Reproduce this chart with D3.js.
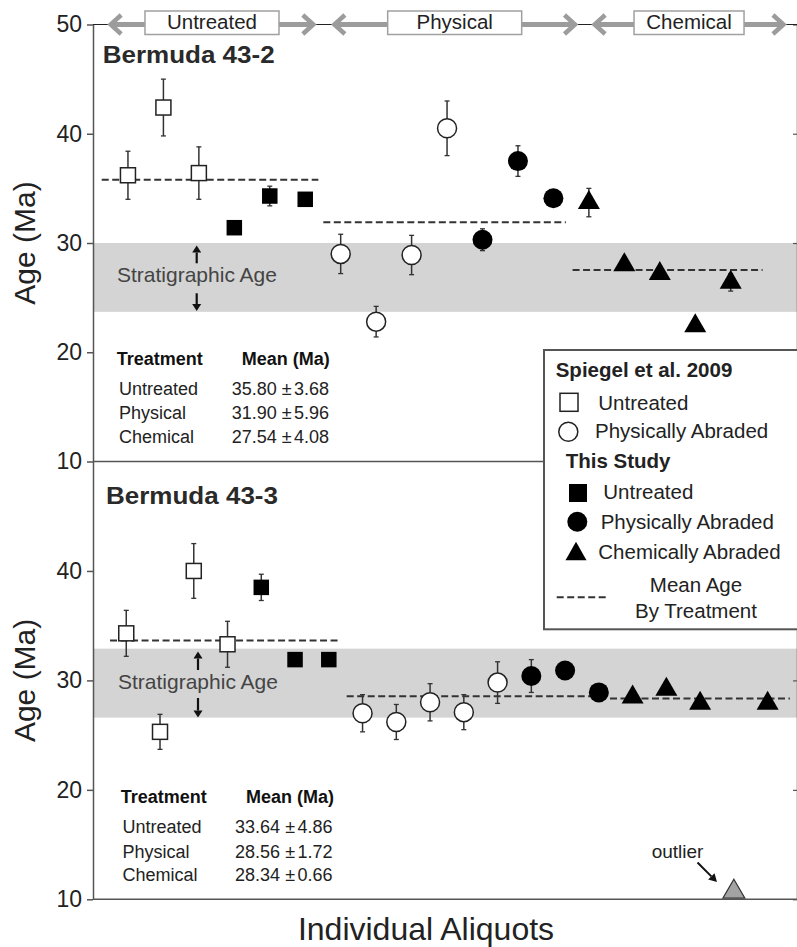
<!DOCTYPE html>
<html><head><meta charset="utf-8">
<script src="https://cdn.jsdelivr.net/npm/d3@7"></script>
<style>body{margin:0;background:#fff}</style>
</head><body>
<svg id="chart" width="797" height="947"></svg>
<script>
// ---------------- DATA ----------------
const treatments = ["Untreated", "Physical", "Chemical"];
const yTicksTop = [10, 20, 30, 40, 50];
const yTicksBottom = [10, 20, 30, 40];
// header arrow extents (aliquot index units, top panel)
const headerStart = [0.47, 6.78, 14.12];
const headerEnd = [6.27, 13.65, 19.53];

// Bermuda 43-2
const a_openSqIdx = [1, 2, 3], a_openSqAge = [36.2, 42.4, 36.4], a_openSqErr = [2.2, 2.6, 2.4];
const a_fillSqIdx = [4, 5, 6], a_fillSqAge = [31.4, 34.3, 34.0], a_fillSqErr = [0, 0.9, 0];
const a_openCirIdx = [7, 8, 9, 10], a_openCirAge = [29.0, 22.8, 28.9, 40.5], a_openCirErr = [1.8, 1.4, 1.8, 2.5];
const a_fillCirIdx = [11, 12, 13], a_fillCirAge = [30.3, 37.5, 34.1], a_fillCirErr = [1.0, 1.4, 0];
const a_triIdx = [14, 15, 16, 17, 18], a_triAge = [33.7, 28.0, 27.2, 22.4, 26.4], a_triErr = [1.3, 0, 0, 0, 0.8];
const a_means = [35.80, 31.90, 27.54], a_sds = [3.68, 5.96, 4.08];
const a_meanStart = [0.26, 6.51, 13.54], a_meanEnd = [6.37, 13.35, 18.9];
const a_band = [23.7, 30.0];

// Bermuda 43-3
const b_openSqIdx = [1, 2, 3, 4], b_openSqAge = [34.3, 25.3, 40.0, 33.3], b_openSqErr = [2.1, 1.6, 2.5, 2.1];
const b_fillSqIdx = [5, 6, 7], b_fillSqAge = [38.5, 31.9, 31.9], b_fillSqErr = [1.2, 0.6, 0];
const b_openCirIdx = [8, 9, 10, 11, 12], b_openCirAge = [27.0, 26.2, 28.0, 27.1, 29.8], b_openCirErr = [1.7, 1.6, 1.7, 1.6, 1.9];
const b_fillCirIdx = [13, 14, 15], b_fillCirAge = [30.4, 30.9, 28.9], b_fillCirErr = [1.5, 0, 0];
const b_triIdx = [16, 17, 18, 20], b_triAge = [28.46, 29.17, 27.9, 27.9], b_triErr = [0, 0, 0, 0];
const b_outlierIdx = [19], b_outlierAge = [10.68];
const b_means = [33.64, 28.56, 28.34], b_sds = [4.86, 1.72, 0.66];
const b_meanStart = [0.52, 7.53, 15.33], b_meanEnd = [7.33, 14.74, 20.66];
const b_band = [26.6, 32.9];

// ---------------- DRAW ----------------
const FONT = "'Liberation Sans', Arial, Helvetica, sans-serif";
const TXT = "#222";
const AX = "#555";
const svg = d3.select("#chart").style("font-family", FONT);

const zip = (idx, age, err) => idx.map((d, i) => ({i: d, v: age[i], e: err ? err[i] : 0}));

const panels = [
  {title: "Bermuda 43-2", yTop: 24.5, yBot: 461.5, xMax: 19.87, ticks: yTicksTop,
   band: a_band, means: a_means, sds: a_sds, mStart: a_meanStart, mEnd: a_meanEnd,
   openSq: zip(a_openSqIdx, a_openSqAge, a_openSqErr), fillSq: zip(a_fillSqIdx, a_fillSqAge, a_fillSqErr),
   openCir: zip(a_openCirIdx, a_openCirAge, a_openCirErr), fillCir: zip(a_fillCirIdx, a_fillCirAge, a_fillCirErr),
   tri: zip(a_triIdx, a_triAge, a_triErr), outlier: [],
   titlePos: [102.7, 63], strat: {x: 117, y: 281.7, ax: 196.7, up: [263.3, 245.5], down: [293.3, 311]},
   table: {hy: 365, tx: 116.7, mx: 241.7, rows: [395, 419.3, 443.3], rx: 119, vx: 231.7, px: 281.8, sx: 294}},
  {title: "Bermuda 43-3", yTop: 461.5, yBot: 899.3, xMax: 20.87, ticks: yTicksBottom,
   band: b_band, means: b_means, sds: b_sds, mStart: b_meanStart, mEnd: b_meanEnd,
   openSq: zip(b_openSqIdx, b_openSqAge, b_openSqErr), fillSq: zip(b_fillSqIdx, b_fillSqAge, b_fillSqErr),
   openCir: zip(b_openCirIdx, b_openCirAge, b_openCirErr), fillCir: zip(b_fillCirIdx, b_fillCirAge, b_fillCirErr),
   tri: zip(b_triIdx, b_triAge, b_triErr), outlier: zip(b_outlierIdx, b_outlierAge, null),
   titlePos: [106, 504.3], strat: {x: 118, y: 689, ax: 198, up: [670, 651.5], down: [698, 717.5]},
   table: {hy: 802.7, tx: 120.7, mx: 246, rows: [833.3, 857.7, 881], rx: 122.5, vx: 235, px: 285.2, sx: 297.4}}
];

function arrow(g, x1, y1, x2, y2, hl, hw, sw, color) {
  const ang = Math.atan2(y2 - y1, x2 - x1);
  const bx = x2 - hl * Math.cos(ang), by = y2 - hl * Math.sin(ang);
  g.append("line").attr("x1", x1).attr("y1", y1).attr("x2", bx).attr("y2", by)
    .attr("stroke", color).attr("stroke-width", sw);
  const px = -Math.sin(ang) * hw, py = Math.cos(ang) * hw;
  g.append("path").attr("d", `M${x2},${y2}L${bx + px},${by + py}L${bx - px},${by - py}Z`).attr("fill", color);
}

const triPath = (h, hw) => `M0,${-2 * h / 3}L${hw},${h / 3}L${-hw},${h / 3}Z`;

panels.forEach((p, pi) => {
  const x = d3.scaleLinear().domain([0, p.xMax]).range([92.5, 797]);
  const y = d3.scaleLinear().domain([10, 50]).range([p.yBot, p.yTop]);
  const g = svg.append("g");

  // band
  g.append("rect").attr("x", 93).attr("width", 704)
    .attr("y", y(p.band[1])).attr("height", y(p.band[0]) - y(p.band[1])).attr("fill", "#d4d4d4");

  // mean lines
  p.means.forEach((m, k) => {
    g.append("line").attr("x1", x(p.mStart[k])).attr("x2", x(p.mEnd[k]))
      .attr("y1", y(m)).attr("y2", y(m))
      .attr("stroke", "#333").attr("stroke-width", 2).attr("stroke-dasharray", "7,3.5");
  });

  // error bars
  const all = [].concat(p.openSq, p.fillSq, p.openCir, p.fillCir, p.tri).filter(d => d.e > 0);
  all.forEach(d => {
    const cx = x(d.i);
    g.append("line").attr("x1", cx).attr("x2", cx).attr("y1", y(d.v - d.e)).attr("y2", y(d.v + d.e))
      .attr("stroke", "#333").attr("stroke-width", 1.5);
    [d.v - d.e, d.v + d.e].forEach(v => g.append("line").attr("x1", cx - 2.5).attr("x2", cx + 2.5)
      .attr("y1", y(v)).attr("y2", y(v)).attr("stroke", "#333").attr("stroke-width", 1.3));
  });

  // markers
  g.selectAll(null).data(p.openSq).join("rect")
    .attr("x", d => x(d.i) - 7.5).attr("y", d => y(d.v) - 7.5).attr("width", 15).attr("height", 15)
    .attr("fill", "#fff").attr("stroke", "#222").attr("stroke-width", 1.5);
  g.selectAll(null).data(p.fillSq).join("rect")
    .attr("x", d => x(d.i) - 7.75).attr("y", d => y(d.v) - 7.75).attr("width", 15.5).attr("height", 15.5)
    .attr("fill", "#000");
  g.selectAll(null).data(p.openCir).join("circle")
    .attr("cx", d => x(d.i)).attr("cy", d => y(d.v)).attr("r", 9.5)
    .attr("fill", "#fff").attr("stroke", "#222").attr("stroke-width", 1.5);
  g.selectAll(null).data(p.fillCir).join("circle")
    .attr("cx", d => x(d.i)).attr("cy", d => y(d.v)).attr("r", 10).attr("fill", "#000");
  g.selectAll(null).data(p.tri).join("path")
    .attr("transform", d => `translate(${x(d.i)},${y(d.v)})`).attr("d", triPath(19, 11)).attr("fill", "#000");
  g.selectAll(null).data(p.outlier).join("path")
    .attr("transform", d => `translate(${x(d.i)},${y(d.v)})`).attr("d", triPath(19, 11))
    .attr("fill", "#a3a3a3").attr("stroke", "#333").attr("stroke-width", 1.2);

  // axes
  const ax = g.append("g").attr("transform", "translate(93,0)")
    .call(d3.axisLeft(y).tickValues(p.ticks).tickSize(6).tickSizeOuter(0).tickPadding(5).tickFormat(d3.format("d")));
  ax.select(".domain").attr("stroke", AX).attr("stroke-width", 1.5);
  ax.selectAll(".tick line").attr("stroke", AX).attr("stroke-width", 1.5);
  ax.selectAll(".tick text").attr("fill", TXT).style("font-size", "23px").style("font-family", FONT);
  const rax = g.append("g").attr("transform", "translate(797,0)")
    .call(d3.axisLeft(y).tickValues(p.ticks).tickSize(4).tickSizeOuter(0).tickFormat(""));
  rax.select(".domain").attr("stroke", AX).attr("stroke-width", 1.5);
  rax.selectAll(".tick line").attr("stroke", AX).attr("stroke-width", 1.2);

  // bottom boundary
  g.append("line").attr("x1", 93).attr("x2", 797).attr("y1", p.yBot).attr("y2", p.yBot)
    .attr("stroke", AX).attr("stroke-width", 1.5);

  // y label
  g.append("text").attr("transform", `translate(35,${(p.yTop + p.yBot) / 2}) rotate(-90)`)
    .attr("text-anchor", "middle").attr("fill", TXT).style("font-size", "30px").text("Age (Ma)");

  // title
  g.append("text").attr("x", p.titlePos[0]).attr("y", p.titlePos[1]).attr("fill", "#2a2a2a")
    .style("font-size", "23.5px").style("font-weight", "bold")
    .attr("textLength", 172).attr("lengthAdjust", "spacingAndGlyphs").text(p.title);

  // stratigraphic age
  g.append("text").attr("x", p.strat.x).attr("y", p.strat.y).attr("fill", "#444")
    .style("font-size", "21px").text("Stratigraphic Age");
  arrow(g, p.strat.ax, p.strat.up[0], p.strat.ax, p.strat.up[1], 7, 4.5, 2.2, "#111");
  arrow(g, p.strat.ax, p.strat.down[0], p.strat.ax, p.strat.down[1], 7, 4.5, 2.2, "#111");

  // table
  const t = p.table;
  g.append("text").attr("x", t.tx).attr("y", t.hy).attr("fill", "#111").style("font-size", "18px")
    .style("font-weight", "bold").text("Treatment");
  g.append("text").attr("x", t.mx).attr("y", t.hy).attr("fill", "#111").style("font-size", "18px")
    .style("font-weight", "bold").text("Mean (Ma)");
  treatments.forEach((tr, k) => {
    g.append("text").attr("x", t.rx).attr("y", t.rows[k]).attr("fill", TXT).style("font-size", "18px").text(tr);
    g.append("text").attr("x", t.vx).attr("y", t.rows[k]).attr("fill", TXT).style("font-size", "18px")
      .text(p.means[k].toFixed(2));
    g.append("text").attr("x", t.px).attr("y", t.rows[k]).attr("fill", TXT).style("font-size", "18px").text("±");
    g.append("text").attr("x", t.sx).attr("y", t.rows[k]).attr("fill", TXT).style("font-size", "18px")
      .text(p.sds[k].toFixed(2));
  });

  // header (top panel only)
  if (pi === 0) {
    const hy = 24.5;
    const h = svg.append("g");
    h.append("line").attr("x1", 93).attr("x2", 797).attr("y1", hy).attr("y2", hy).attr("stroke", "#222").attr("stroke-width", 1);
    const boxW = [134, 134, 110];
    const gray = "#9c9c9c";
    treatments.forEach((tr, k) => {
      const xs = x(headerStart[k]), xe = x(headerEnd[k]);
      const cx = (xs + xe) / 2;
      h.append("line").attr("x1", xs + 2).attr("x2", xe - 2).attr("y1", hy).attr("y2", hy)
        .attr("stroke", gray).attr("stroke-width", 5);
      h.append("polyline").attr("points", `${xs + 12},${hy - 9.5} ${xs + 1.5},${hy} ${xs + 12},${hy + 9.5}`)
        .attr("fill", "none").attr("stroke", gray).attr("stroke-width", 4.5);
      h.append("polyline").attr("points", `${xe - 12},${hy - 9.5} ${xe - 1.5},${hy} ${xe - 12},${hy + 9.5}`)
        .attr("fill", "none").attr("stroke", gray).attr("stroke-width", 4.5);
      h.append("rect").attr("x", cx - boxW[k] / 2).attr("y", 11).attr("width", boxW[k]).attr("height", 23.5)
        .attr("fill", "#fff").attr("stroke", "#a0a0a0").attr("stroke-width", 1.5);
      h.append("text").attr("x", cx).attr("y", 29.3).attr("text-anchor", "middle").attr("fill", TXT)
        .style("font-size", "20.5px").text(tr);
    });
  }

  // outlier annotation (bottom panel)
  if (pi === 1) {
    g.append("text").attr("x", 651.7).attr("y", 858.3).attr("fill", TXT).style("font-size", "19px").text("outlier");
    arrow(g, 697.5, 862.5, 717, 882, 8, 4.5, 2, "#111");
  }
});

// legend
const L = svg.append("g");
L.append("rect").attr("x", 544).attr("y", 350).attr("width", 262).attr("height", 279.3)
  .attr("fill", "#fff").attr("stroke", AX).attr("stroke-width", 2);
const lt = (x, y, s, bold, anchor) => L.append("text").attr("x", x).attr("y", y).attr("fill", TXT)
  .attr("text-anchor", anchor || "start").style("font-size", "20.5px").style("font-weight", bold ? "bold" : "normal").text(s);
lt(555.7, 376.7, "Spiegel et al. 2009", true);
L.append("rect").attr("x", 560).attr("y", 393.3).attr("width", 18).attr("height", 18)
  .attr("fill", "#fff").attr("stroke", "#222").attr("stroke-width", 1.5);
lt(598.3, 410, "Untreated");
L.append("circle").attr("cx", 568.3).attr("cy", 431.7).attr("r", 9.5).attr("fill", "#fff").attr("stroke", "#222").attr("stroke-width", 1.5);
lt(595, 438.3, "Physically Abraded");
lt(565.7, 468, "This Study", true);
L.append("rect").attr("x", 569).attr("y", 484).attr("width", 18).attr("height", 18).attr("fill", "#000");
lt(603.3, 499, "Untreated");
L.append("circle").attr("cx", 577.3).attr("cy", 521.7).attr("r", 10).attr("fill", "#000");
lt(600.7, 529, "Physically Abraded");
L.append("path").attr("transform", "translate(576,554)").attr("d", triPath(18.5, 10.5)).attr("fill", "#000");
lt(598.3, 559, "Chemically Abraded");
L.append("line").attr("x1", 556.7).attr("x2", 607.3).attr("y1", 597.3).attr("y2", 597.3)
  .attr("stroke", "#333").attr("stroke-width", 2).attr("stroke-dasharray", "7,3.5");
lt(696, 591.7, "Mean Age", false, "middle");
lt(696, 617.7, "By Treatment", false, "middle");

// x label
svg.append("text").attr("x", 426).attr("y", 940).attr("text-anchor", "middle").attr("fill", TXT)
  .style("font-size", "32px").text("Individual Aliquots");
</script></body></html>
